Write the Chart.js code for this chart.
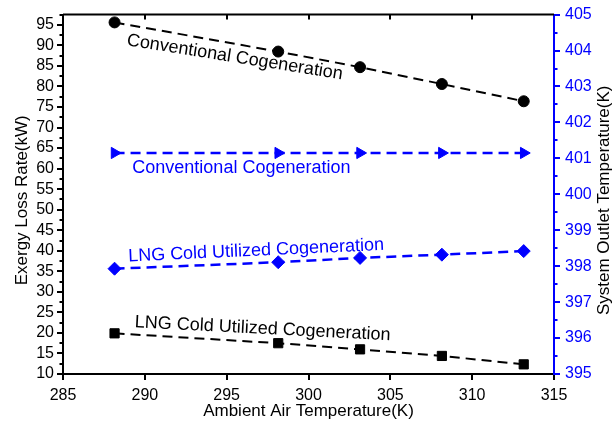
<!DOCTYPE html>
<html>
<head>
<meta charset="utf-8">
<script src="https://cdn.jsdelivr.net/npm/chart.js@4.4.1/dist/chart.umd.min.js"></script>
<style>
  html, body { margin: 0; padding: 0; background: #fff; }
  #wrap { width: 613px; height: 422px; }
</style>
</head>
<body>
<div id="wrap"><canvas id="chart" width="613" height="422"></canvas></div>
<script>
// values
const airTemp = [288.15, 298.15, 303.15, 308.15, 313.15];
const lossConv = [95.6, 88.5, 84.7, 80.6, 76.4];
const lossLng = [19.9, 17.5, 16.0, 14.4, 12.35];
const outletConv = [401.15, 401.15, 401.15, 401.15, 401.15];
const outletLng = [397.93, 398.11, 398.23, 398.32, 398.42];

const BLUE = '#0000ff';
const FONT = 'Liberation Sans, Arial, sans-serif';

function pts(ys) {
    return airTemp.map((x, i) => ({ x: x, y: ys[i] }));
}

// text labels placed next to the curves (in data units)
const notes = [
    { text: 'Conventional Cogeneration', x: 295.5, y: 87.1, axis: 'y', angle: 9, color: '#000' },
    { text: 'Conventional Cogeneration', x: 295.9, y: 400.73, axis: 'y2', angle: 0, color: BLUE },
    { text: 'LNG Cold Utilized Cogeneration', x: 296.8, y: 398.43, axis: 'y2', angle: -2.6, color: BLUE },
    { text: 'LNG Cold Utilized Cogeneration', x: 297.2, y: 21.0, axis: 'y', angle: 2.9, color: '#000' }
];

function vTitle(ctx, text, x, y) {
    ctx.save();
    ctx.fillStyle = '#000';
    ctx.font = '17px ' + FONT;
    ctx.textAlign = 'center';
    ctx.textBaseline = 'middle';
    ctx.translate(x, y);
    ctx.rotate(-Math.PI / 2);
    ctx.fillText(text, 0, 0);
    ctx.restore();
}

const framePlugin = {
    id: 'frame',
    afterDraw(chart) {
        const ctx = chart.ctx;
        const a = chart.chartArea;
        const sx = chart.scales.x, sy = chart.scales.y, sy2 = chart.scales.y2;
        ctx.save();
        // top frame line with inward ticks
        ctx.strokeStyle = '#000';
        ctx.lineWidth = 2;
        ctx.beginPath();
        ctx.moveTo(a.left, a.top);
        ctx.lineTo(a.right, a.top);
        for (let v = 290; v < 315; v += 5) {
            const px = Math.round(sx.getPixelForValue(v));
            ctx.moveTo(px, a.top);
            ctx.lineTo(px, a.top + 5);
        }
        ctx.stroke();
        // minor ticks left
        ctx.beginPath();
        for (let v = 12.5; v < 97.6; v += 5) {
            const py = Math.round(sy.getPixelForValue(v));
            ctx.moveTo(a.left, py);
            ctx.lineTo(a.left - 3.5, py);
        }
        ctx.stroke();
        // minor ticks right
        ctx.strokeStyle = BLUE;
        ctx.beginPath();
        for (let v = 395.5; v < 405; v += 1) {
            const py = Math.round(sy2.getPixelForValue(v));
            ctx.moveTo(a.right, py);
            ctx.lineTo(a.right + 3.5, py);
        }
        ctx.stroke();
        ctx.restore();
        // axis titles, both read bottom to top
        const midY = (a.top + a.bottom) / 2 + 6;
        vTitle(ctx, 'Exergy Loss Rate(kW)', sy.left + 22, midY);
        vTitle(ctx, 'System Outlet Temperature(K)', sy2.right - 9, midY);
    },
    afterDatasetsDraw(chart) {
        const ctx = chart.ctx;
        ctx.save();
        ctx.font = '18px ' + FONT;
        ctx.textAlign = 'center';
        ctx.textBaseline = 'middle';
        notes.forEach(n => {
            const px = chart.scales.x.getPixelForValue(n.x);
            const py = chart.scales[n.axis].getPixelForValue(n.y);
            ctx.save();
            ctx.translate(px, py);
            ctx.rotate(n.angle * Math.PI / 180);
            ctx.fillStyle = n.color;
            ctx.fillText(n.text, 0, 0);
            ctx.restore();
        });
        ctx.restore();
    }
};

const lineSet = (label, ys, axis, color, style, radius, rot, lw) => ({
    label: label,
    data: pts(ys),
    yAxisID: axis,
    showLine: true,
    borderColor: color,
    backgroundColor: color,
    borderWidth: lw || 2,
    borderDash: [10, 6],
    pointStyle: style,
    pointRadius: radius,
    pointHoverRadius: radius,
    pointRotation: rot || 0,
    pointBorderWidth: 1
});

new Chart(document.getElementById('chart'), {
    type: 'scatter',
    data: {
        datasets: [
            lineSet('Conventional Cogeneration', lossConv, 'y', '#000', 'circle', 5.5),
            lineSet('LNG Cold Utilized Cogeneration', lossLng, 'y', '#000', 'rect', 6.5),
            lineSet('Conventional Cogeneration (T)', outletConv, 'y2', BLUE, 'triangle', 6.5, 90, 2.5),
            lineSet('LNG Cold Utilized Cogeneration (T)', outletLng, 'y2', BLUE, 'rectRot', 6.5, 0, 2.5)
        ]
    },
    options: {
        responsive: false,
        animation: false,
        layout: { padding: { top: 13, left: 0, right: 0, bottom: 0 } },
        plugins: { legend: { display: false }, tooltip: { enabled: false } },
        scales: {
            x: {
                type: 'linear',
                position: 'bottom',
                min: 285, max: 315,
                afterFit: s => { s.height = 48; },
                ticks: { stepSize: 5, autoSkip: false, color: '#000', padding: 6, font: { family: FONT, size: 16 } },
                grid: { drawOnChartArea: false, drawTicks: true, tickLength: 6, color: '#000', lineWidth: 2 },
                border: { display: true, color: '#000', width: 2 },
                title: { display: true, text: 'Ambient Air Temperature(K)', color: '#000',
                         font: { family: FONT, size: 17, lineHeight: 1 }, padding: { top: 0, bottom: 2 } }
            },
            y: {
                type: 'linear',
                position: 'left',
                min: 10, max: 97.5,
                afterFit: s => { s.width = 63; },
                ticks: { stepSize: 5, autoSkip: false, includeBounds: false, color: '#000', padding: 3, font: { family: FONT, size: 16 } },
                grid: { drawOnChartArea: false, drawTicks: true, tickLength: 6, color: '#000', lineWidth: 2 },
                border: { display: true, color: '#000', width: 2 },
                title: { display: false }
            },
            y2: {
                type: 'linear',
                position: 'right',
                min: 395, max: 405,
                afterFit: s => { s.width = 59; },
                ticks: { stepSize: 1, autoSkip: false, color: BLUE, padding: 5, font: { family: FONT, size: 16 } },
                grid: { drawOnChartArea: false, drawTicks: true, tickLength: 6, color: BLUE, lineWidth: 2 },
                border: { display: true, color: BLUE, width: 2 },
                title: { display: false }
            }
        }
    },
    plugins: [framePlugin]
});
</script>
</body>
</html>
